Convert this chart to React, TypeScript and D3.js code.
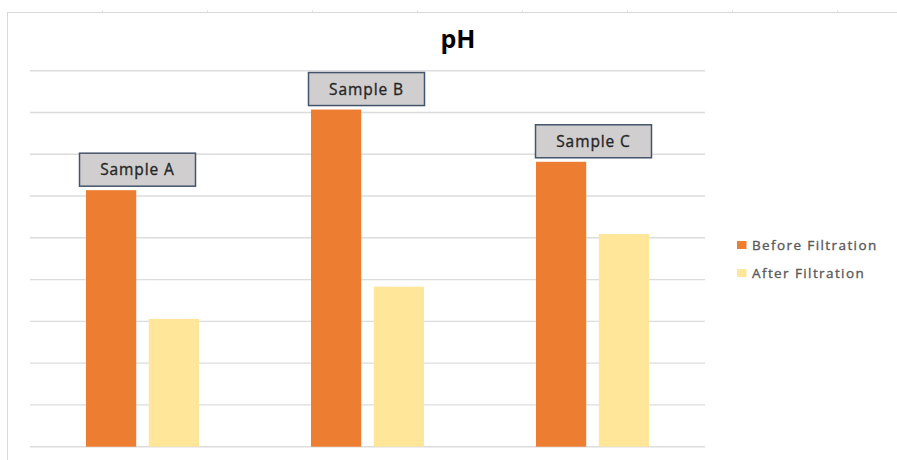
import React from "react";
import * as d3 from "d3";

const categories = ["Sample A", "Sample B", "Sample C"];
const seriesNames = ["Before Filtration", "After Filtration"];
const beforeValues = [6.14, 8.07, 6.82];
const afterValues = [3.06, 3.83, 5.09];
const yTicks = [0, 1, 2, 3, 4, 5, 6, 7, 8, 9];
const colors = ["#ED7D31", "#FFE699"];

const W = 897;
const H = 460;

export default function App() {
  const plotLeft = 30;
  const plotRight = 705;
  const plotTop = 70.7;
  const plotBottom = 446.7;

  const y = d3.scaleLinear().domain([0, 9]).range([plotBottom, plotTop]);
  const x0 = d3.scaleBand<string>().domain(categories).range([plotLeft, plotRight]).padding(0);
  const groupW = 113;
  const x1 = d3.scaleBand<string>().domain(seriesNames).range([0, groupW]).paddingInner(0.2).paddingOuter(0);
  const values = [beforeValues, afterValues];

  const boxW = 116;
  const boxH = 33;

  const topTicks = d3.range(102, 897, 105);

  return (
    <svg width={W} height={H} style={{ position: "absolute", left: 0, top: 0, background: "#fff" }}
      fontFamily="'Open Sans', sans-serif">
      <rect x={0} y={0} width={W} height={H} fill="#fff" />
      {/* sheet border lines */}
      <line x1={7} x2={W} y1={12.5} y2={12.5} stroke="#d9d9d9" strokeWidth={1} />
      <line x1={7.5} x2={7.5} y1={12} y2={H} stroke="#d9d9d9" strokeWidth={1} />
      {topTicks.map((t) => (
        <line key={t} x1={t + 0.5} x2={t + 0.5} y1={10} y2={12} stroke="#e4e4e4" />
      ))}
      {/* gridlines */}
      {yTicks.map((t) => (
        <line key={t} x1={plotLeft} x2={plotRight} y1={y(t)} y2={y(t)} stroke="#dcdcdc" strokeWidth={1.4} />
      ))}
      {/* bars */}
      {categories.map((c, i) => {
        const gx = (x0(c) as number) + (x0.bandwidth() - groupW) / 2;
        return (
          <g key={c}>
            {seriesNames.map((s, j) => (
              <rect key={s} x={gx + (x1(s) as number)} y={y(values[j][i])} width={x1.bandwidth()}
                height={plotBottom - y(values[j][i])} fill={colors[j]} />
            ))}
          </g>
        );
      })}
      {/* labels */}
      {categories.map((c, i) => {
        const cx = (x0(c) as number) + x0.bandwidth() / 2 + (i === 0 ? -5 : i === 2 ? 1 : -1);
        const bottom = y(beforeValues[i]) - 4;
        return (
          <g key={c}>
            <rect x={cx - boxW / 2} y={bottom - boxH} width={boxW} height={boxH} fill="#D0CECE"
              stroke="#44546A" strokeWidth={1.5} />
            <text x={cx} y={bottom - boxH / 2 + 5.5} textAnchor="middle" fontSize={15.5}
              letterSpacing={0.9} fill="#262626" stroke="#262626" strokeWidth={0.35}>{c}</text>
          </g>
        );
      })}
      {/* title */}
      <text x={458} y={48} textAnchor="middle" fontSize={25} fontWeight="bold" fill="#000">pH</text>
      {/* legend */}
      {seriesNames.map((s, j) => (
        <g key={s} transform={`translate(737, ${241 + j * 28})`}>
          <rect x={0} y={0} width={9.5} height={8} fill={colors[j]} />
          <text x={15} y={9} fontSize={13.5} fill="#595959" stroke="#595959" strokeWidth={0.35}
            letterSpacing={1.4}>{s}</text>
        </g>
      ))}
    </svg>
  );
}
